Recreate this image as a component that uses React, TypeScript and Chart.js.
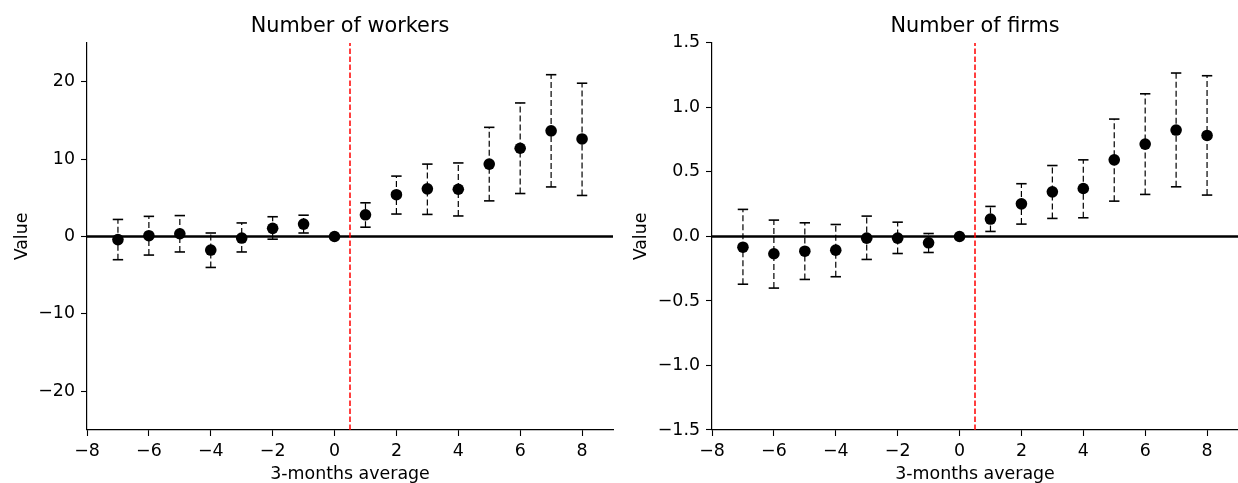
import React, { useEffect, useRef } from "react";
import { Chart, registerables } from "chart.js";

Chart.register(...registerables);

const months = [-7, -6, -5, -4, -3, -2, -1, 0, 1, 2, 3, 4, 5, 6, 7, 8];

const workersCoef = [-0.4, 0.1, 0.35, -1.75, -0.2, 1.05, 1.6, 0, 2.8, 5.4, 6.15, 6.1, 9.35, 11.4, 13.65, 12.6];
const workersLo = [-3.0, -2.4, -2.0, -4.0, -2.0, -0.35, 0.45, null, 1.2, 2.9, 2.85, 2.65, 4.6, 5.55, 6.4, 5.3];
const workersHi = [2.2, 2.6, 2.7, 0.45, 1.75, 2.55, 2.75, null, 4.35, 7.8, 9.35, 9.5, 14.1, 17.25, 20.9, 19.8];

const firmsCoef = [-0.083, -0.134, -0.114, -0.106, -0.013, -0.013, -0.049, 0, 0.135, 0.253, 0.346, 0.372, 0.594, 0.716, 0.825, 0.783];
const firmsLo = [-0.37, -0.4, -0.333, -0.312, -0.178, -0.132, -0.124, null, 0.039, 0.096, 0.14, 0.145, 0.274, 0.326, 0.385, 0.321];
const firmsHi = [0.21, 0.127, 0.106, 0.093, 0.158, 0.111, 0.023, null, 0.233, 0.409, 0.55, 0.594, 0.91, 1.106, 1.267, 1.246];

const xTicks = [-8, -6, -4, -2, 0, 2, 4, 6, 8];
const xRange = [-8, 9];
const workersYTicks = [-20, -10, 0, 10, 20];
const workersYRange = [-25, 25];
const firmsYTicks = [-1.5, -1.0, -0.5, 0.0, 0.5, 1.0, 1.5];
const firmsYRange = [-1.5, 1.5];
const eventLineX = 0.5;

const FONT = "'DejaVu Sans', sans-serif";
const TICK_FONT = 17.4;
const TITLE_FONT = 20.8;

type PanelProps = {
  title: string;
  coef: number[];
  lo: (number | null)[];
  hi: (number | null)[];
  yTicks: number[];
  yRange: number[];
  fmt: (v: number) => string;
  yAxisWidth: number;
  rightPad: number;
  left: number;
};

function Panel(props: PanelProps) {
  const ref = useRef<HTMLCanvasElement | null>(null);
  useEffect(() => {
    const { coef, lo, hi, yTicks, yRange, fmt, yAxisWidth, rightPad, title } = props;
    const markers = months.map((m, i) => ({ x: m, y: coef[i] }));
    const bars: { x: number; y: number | null }[] = [];
    months.forEach((m, i) => {
      if (lo[i] === null || hi[i] === null) return;
      bars.push({ x: m, y: lo[i] as number });
      bars.push({ x: m, y: hi[i] as number });
      bars.push({ x: m, y: null });
    });
    const zero = xRange.map((x) => ({ x, y: 0 }));
    const vline = yRange.map((y) => ({ x: eventLineX, y }));

    const chart = new Chart(ref.current as HTMLCanvasElement, {
      type: "scatter",
      data: {
        datasets: [
          {
            data: markers,
            pointRadius: 5.8,
            pointBackgroundColor: "#000",
            pointBorderColor: "#000",
            pointBorderWidth: 0,
            showLine: false,
          },
          {
            data: bars as any,
            showLine: true,
            spanGaps: false,
            borderColor: "#000",
            borderWidth: 1.2,
            borderDash: [6, 3],
            pointStyle: "line",
            pointRadius: 5.2,
            pointBorderColor: "#000",
            pointBorderWidth: 1.6,
          },
          {
            data: vline,
            showLine: true,
            borderColor: "#ff0000",
            borderWidth: 1.5,
            borderDash: [5.5, 2.5],
            pointRadius: 0,
          },
          {
            data: zero,
            showLine: true,
            borderColor: "#000",
            borderWidth: 2.6,
            pointRadius: 0,
          },
        ],
      } as any,
      options: {
        animation: false,
        responsive: false,
        devicePixelRatio: 1,
        layout: { autoPadding: false, padding: { left: 0, right: rightPad, top: 0, bottom: 0 } },
        plugins: {
          legend: { display: false },
          tooltip: { enabled: false },
          title: {
            display: true,
            text: title,
            fullSize: false,
            color: "#000",
            font: { family: FONT, size: TITLE_FONT, weight: "normal" },
            padding: { top: 14.5, bottom: 3.5 },
          },
        },
        scales: {
          x: {
            type: "linear",
            min: xRange[0],
            max: xRange[1],
            afterBuildTicks: (s: any) => {
              s.ticks = xTicks.map((v) => ({ value: v }));
            },
            afterFit: (s: any) => {
              s.height = 53;
            },
            ticks: {
              color: "#000",
              font: { family: FONT, size: TICK_FONT },
              padding: 5,
              maxRotation: 0,
              autoSkip: false,
              callback: (v: any) => String(v).replace("-", "\u2212"),
            },
            grid: { drawOnChartArea: false, drawTicks: true, tickLength: 6, tickColor: "#000", tickWidth: 1.1 },
            border: { display: true, color: "#000", width: 1.2 },
            title: {
              display: true,
              text: "3-months average",
              color: "#000",
              font: { family: FONT, size: TICK_FONT },
              padding: { top: 0, bottom: -1.5 },
            },
          },
          y: {
            type: "linear",
            min: yRange[0],
            max: yRange[1],
            afterBuildTicks: (s: any) => {
              s.ticks = yTicks.map((v) => ({ value: v }));
            },
            afterFit: (s: any) => {
              s.width = yAxisWidth;
            },
            ticks: {
              color: "#000",
              font: { family: FONT, size: TICK_FONT },
              padding: 6,
              autoSkip: false,
              callback: (v: any) => fmt(Number(v)),
            },
            grid: { drawOnChartArea: false, drawTicks: true, tickLength: 6, tickColor: "#000", tickWidth: 1.1 },
            border: { display: true, color: "#000", width: 1.2 },
            title: {
              display: true,
              text: "Value",
              color: "#000",
              font: { family: FONT, size: TICK_FONT },
              padding: { top: 12, bottom: 0 },
            },
          },
        },
      } as any,
    });
    return () => chart.destroy();
  }, []);
  return (
    <canvas
      ref={ref}
      width={619}
      height={483}
      style={{ position: "absolute", left: props.left, top: 0, width: 619, height: 483 }}
    />
  );
}

const fmtInt = (v: number) => (v < 0 ? "\u2212" + Math.abs(v) : String(v));
const fmtOne = (v: number) => (v < 0 ? "\u2212" + Math.abs(v).toFixed(1) : v.toFixed(1));

export default function App() {
  return (
    <div style={{ position: "absolute", left: 0, top: 0, width: 1238, height: 483, background: "#fff" }}>
      <Panel
        title="Number of workers"
        coef={workersCoef}
        lo={workersLo}
        hi={workersHi}
        yTicks={workersYTicks}
        yRange={workersYRange}
        fmt={fmtInt}
        yAxisWidth={87}
        rightPad={6}
        left={0}
      />
      <Panel
        title="Number of firms"
        coef={firmsCoef}
        lo={firmsLo}
        hi={firmsHi}
        yTicks={firmsYTicks}
        yRange={firmsYRange}
        fmt={fmtOne}
        yAxisWidth={93}
        rightPad={0}
        left={619}
      />
    </div>
  );
}
